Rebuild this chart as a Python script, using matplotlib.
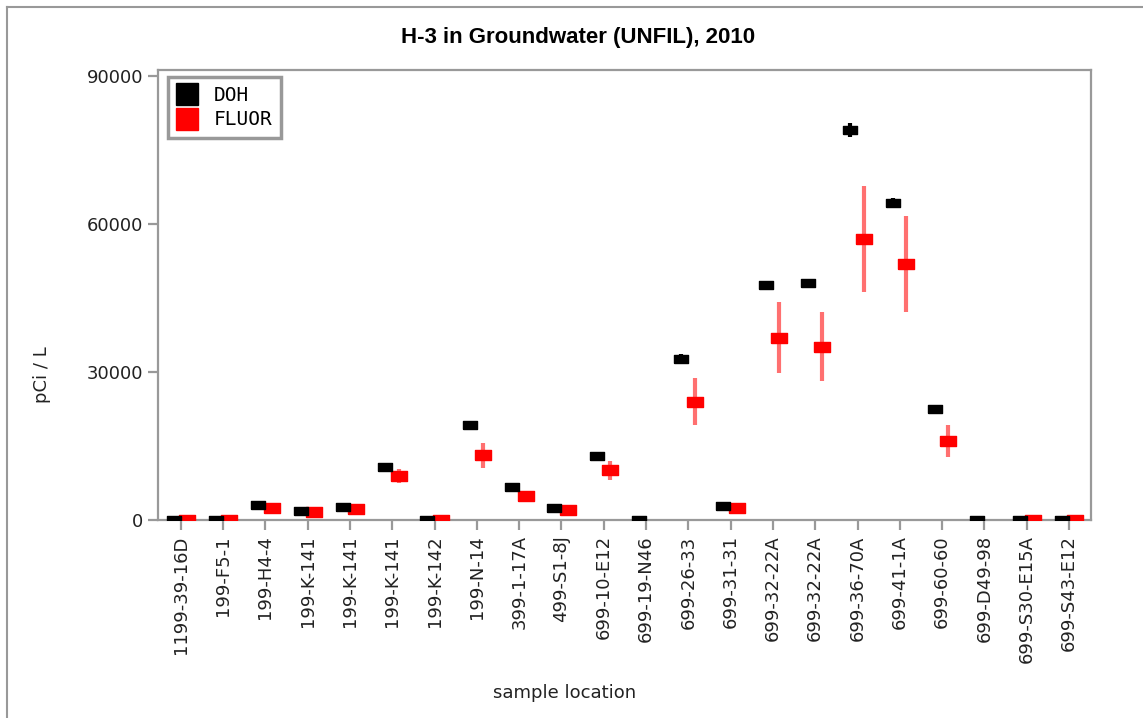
import numpy as np
import matplotlib
matplotlib.use("Agg")
import matplotlib.pyplot as plt
from matplotlib.lines import Line2D

locations = ["1199-39-16D", "199-F5-1", "199-H4-4", "199-K-141", "199-K-141",
             "199-K-141", "199-K-142", "199-N-14", "399-1-17A", "499-S1-8J",
             "699-10-E12", "699-19-N46", "699-26-33", "699-31-31", "699-32-22A",
             "699-32-22A", "699-36-70A", "699-41-1A", "699-60-60", "699-D49-98",
             "699-S30-E15A", "699-S43-E12"]

# DOH results (pCi/L) and uncertainties
doh = [0, 0, 3000, 1800, 2600, 10700, 0, 19200, 6700, 2400,
       12900, 0, 32700, 2800, 47600, 48000, 79100, 64300, 22400, 0, 0, 0]
doh_err = [0, 0, 300, 200, 250, 500, 0, 700, 400, 200,
           500, 0, 1000, 250, 800, 900, 1400, 900, 700, 0, 0, 0]

# FLUOR results (None = no measurement)
fluor = [0, 0, 2400, 1600, 2200, 8900, 0, 13100, 4800, 2000,
         10100, None, 24000, 2400, 36900, 35100, 56900, 51900, 16000, None, 0, 0]
fluor_err = [0, 0, 400, 300, 400, 1400, 0, 2500, 900, 400,
             1900, None, 4700, 400, 7200, 7000, 10700, 9700, 3300, None, 0, 0]

x = np.arange(len(locations))
fx = np.array([i for i, v in enumerate(fluor) if v is not None])
fv = np.array([v for v in fluor if v is not None])
fe = np.array([v for v in fluor_err if v is not None])

fig = plt.figure(figsize=(11.43, 7.18), dpi=100)
ax = fig.add_axes([158/1143, 1-520/718, (1091-158)/1143, (520-70)/718])

rect = [(-1, -0.64), (1, -0.64), (1, 0.64), (-1, 0.64), (-1, -0.64)]

ax.errorbar(fx + 0.15, fv, yerr=fe, fmt="none", ecolor="#ff7070", elinewidth=3, capsize=0, zorder=2)
ax.plot(fx + 0.15, fv, linestyle="none", marker=rect, markersize=11, color="red", zorder=3)
ax.errorbar(x - 0.17, doh, yerr=doh_err, fmt="none", ecolor="black", elinewidth=3, capsize=0, zorder=4)
ax.plot(x - 0.17, doh, linestyle="none", marker=rect, markersize=10, color="black", zorder=5)

ax.set_xlim(-0.54, 21.52)
ax.set_ylim(0, 91200)
ax.set_yticks([0, 30000, 60000, 90000])
ax.set_yticklabels(["0", "30000", "60000", "90000"])
ax.set_xticks(x)
ax.set_xticklabels(locations, rotation=90)

for s in ax.spines.values():
    s.set_color("#999999")
    s.set_linewidth(1.6)
ax.tick_params(axis="both", colors="#999999", width=1.6, length=7, labelsize=13, labelcolor="#222222")
ax.tick_params(axis="x", pad=4)

handles = [Line2D([], [], linestyle="none", marker="s", markersize=16, color="black"),
           Line2D([], [], linestyle="none", marker="s", markersize=16, color="red")]
leg = ax.legend(handles, ["DOH", "FLUOR"], loc="upper left", bbox_to_anchor=(0.011, 0.984),
                borderaxespad=0, prop={"family": "DejaVu Sans Mono", "size": 14}, fancybox=False,
                handlelength=1.0, handletextpad=0.9, labelspacing=0.28, borderpad=0.45,
                framealpha=1)
leg.get_frame().set_edgecolor("#999999")
leg.get_frame().set_linewidth(2.5)

fig.text(578/1143, 1-37/718, "H-3 in Groundwater (UNFIL), 2010", ha="center", va="center",
         fontsize=16, fontweight="bold", family=["Liberation Sans", "DejaVu Sans"])
fig.text(42/1143, 1-375/718, "pCi / L", rotation=90, ha="center", va="center", fontsize=13, color="#222222")
fig.text(565/1143, 1-693/718, "sample location", ha="center", va="center", fontsize=13, color="#222222")

# outer frame on the left and top edges
fig.add_artist(Line2D([7/1143, 7/1143], [0, 1-7/718], transform=fig.transFigure, color="#999999", lw=1.5))
fig.add_artist(Line2D([7/1143, 1], [1-7/718, 1-7/718], transform=fig.transFigure, color="#999999", lw=1.5))

fig.savefig("out.png", dpi=100)
